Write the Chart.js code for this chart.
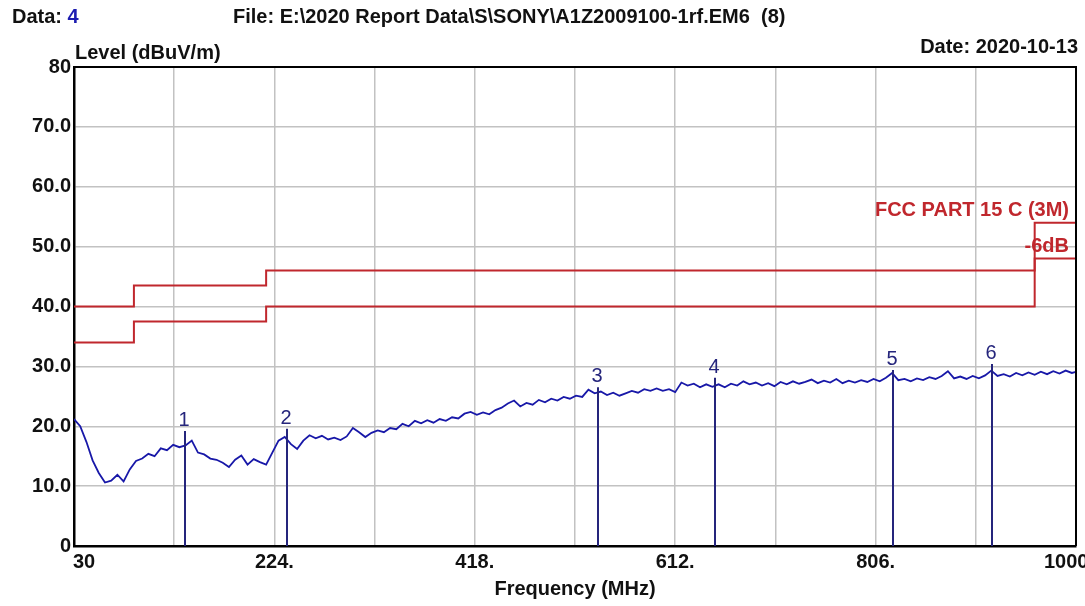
<!DOCTYPE html>
<html>
<head>
<meta charset="utf-8">
<script src="https://cdn.jsdelivr.net/npm/chart.js@4.4.0/dist/chart.umd.min.js"></script>
<style>
  html, body { margin: 0; padding: 0; background: #fff; overflow: hidden; }
</style>
</head>
<body>
<canvas id="emiChart" width="1085" height="606"></canvas>
<script>
// grid / tick positions
const xGrid = [30, 127, 224, 321, 418, 515, 612, 709, 806, 903, 1000];
const xTickLabels = ['30', '', '224.', '', '418.', '', '612.', '', '806.', '', '1000'];
const yGrid = [0, 10, 20, 30, 40, 50, 60, 70, 80];
const yTickLabels = ['0', '10.0', '20.0', '30.0', '40.0', '50.0', '60.0', '70.0', '80'];

// limit lines (FCC part 15 C, 3m) and the -6dB margin
const limitFreq = [30, 88, 216, 960, 1000];
const limitLevel = [40, 43.5, 46, 54, 54];
const marginLevel = [34, 37.5, 40, 48, 48];

// measured trace
const traceFreq = [
  30, 36, 42, 48, 54, 60, 66, 72, 78, 84,
  90, 96, 102, 108, 114, 120, 126, 132, 138, 144,
  150, 156, 162, 168, 174, 180, 186, 192, 198, 204,
  210, 216, 222, 228, 234, 240, 246, 252, 258, 264,
  270, 276, 282, 288, 294, 300, 306, 312, 318, 324,
  330, 336, 342, 348, 354, 360, 366, 372, 378, 384,
  390, 396, 402, 408, 414, 420, 426, 432, 438, 444,
  450, 456, 462, 468, 474, 480, 486, 492, 498, 504,
  510, 516, 522, 528, 534, 540, 546, 552, 558, 564,
  570, 576, 582, 588, 594, 600, 606, 612, 618, 624,
  630, 636, 642, 648, 654, 660, 666, 672, 678, 684,
  690, 696, 702, 708, 714, 720, 726, 732, 738, 744,
  750, 756, 762, 768, 774, 780, 786, 792, 798, 804,
  810, 816, 822, 828, 834, 840, 846, 852, 858, 864,
  870, 876, 882, 888, 894, 900, 906, 912, 918, 924,
  930, 936, 942, 948, 954, 960, 966, 972, 978, 984,
  990, 996, 1000
];
const traceLevel = [
  21.2, 20.0, 17.4, 14.3, 12.2, 10.6, 10.9, 11.9, 10.8, 12.8,
  14.2, 14.6, 15.4, 15.0, 16.3, 16.0, 16.9, 16.5, 16.8, 17.6,
  15.6, 15.3, 14.6, 14.4, 13.9, 13.2, 14.4, 15.1, 13.6, 14.5,
  14.0, 13.6, 15.6, 17.6, 18.2, 17.0, 16.2, 17.6, 18.5, 18.0,
  18.4, 17.8, 18.1, 17.7, 18.3, 19.7, 19.0, 18.2, 18.9, 19.3,
  19.0, 19.7, 19.5, 20.4, 20.0, 20.9, 20.5, 21.0, 20.6, 21.2,
  20.9, 21.5, 21.3, 22.1, 22.4, 21.9, 22.3, 22.0, 22.7, 23.1,
  23.8, 24.3, 23.3, 23.9, 23.6, 24.4, 24.0, 24.6, 24.3, 24.9,
  24.6, 25.1, 24.9, 26.1, 25.5, 25.8, 25.2, 25.6, 25.1, 25.5,
  25.9, 25.6, 26.2, 25.9, 26.3, 25.9, 26.2, 25.7, 27.3, 26.8,
  27.1, 26.5, 27.0, 26.6, 27.0, 26.5, 27.1, 26.8, 27.5, 27.0,
  27.3, 26.8, 27.2, 26.7, 27.4, 27.0, 27.5, 27.1, 27.4, 27.8,
  27.2, 27.6, 27.3, 27.9, 27.2, 27.6, 27.3, 27.7, 27.4, 27.9,
  27.5, 28.1, 28.9, 27.7, 27.9, 27.5, 28.0, 27.7, 28.2, 27.9,
  28.4, 29.2, 28.0, 28.3, 27.9, 28.4, 28.0, 28.5, 29.3, 28.4,
  28.7, 28.3, 28.9, 28.5, 29.0, 28.6, 29.1, 28.7, 29.2, 28.8,
  29.3, 28.9, 29.1
];

// peak markers
const markerLabels = ['1', '2', '3', '4', '5', '6'];
const markerFreq = [137.6, 236.2, 537.3, 650.5, 823.1, 919.0];
const markerLevel = [19.2, 19.6, 26.5, 28.1, 29.4, 30.4];

const FONT = '"Liberation Sans", Arial, sans-serif';
const RED = '#c0272d';
const NAVY = '#25257c';

const overlay = {
  id: 'overlay',
  afterDatasetsDraw(chart) {
    const { ctx, chartArea: a, scales: { x, y } } = chart;
    ctx.save();
    // markers
    ctx.strokeStyle = NAVY;
    ctx.fillStyle = NAVY;
    ctx.lineWidth = 2;
    ctx.font = '20px ' + FONT;
    ctx.textAlign = 'center';
    ctx.textBaseline = 'alphabetic';
    markerFreq.forEach((f, i) => {
      const px = Math.round(x.getPixelForValue(f));
      const top = y.getPixelForValue(markerLevel[i]);
      ctx.beginPath();
      ctx.moveTo(px, y.getPixelForValue(0));
      ctx.lineTo(px, top);
      ctx.stroke();
      ctx.fillText(markerLabels[i], px - 1, top - 5);
    });
    // top and right frame
    ctx.strokeStyle = '#000';
    ctx.lineWidth = 2;
    ctx.beginPath();
    ctx.moveTo(a.left, a.top);
    ctx.lineTo(a.right, a.top);
    ctx.lineTo(a.right, a.bottom);
    ctx.stroke();
    ctx.restore();
  },
  afterDraw(chart) {
    const { ctx, scales: { x, y } } = chart;
    ctx.save();
    ctx.font = 'bold 20px ' + FONT;
    ctx.fillStyle = '#111';
    ctx.textBaseline = 'middle';

    // y tick labels
    ctx.textAlign = 'right';
    yGrid.forEach((v, i) => ctx.fillText(yTickLabels[i], 71, y.getPixelForValue(v)));

    // x tick labels
    xGrid.forEach((v, i) => {
      const lbl = xTickLabels[i];
      if (!lbl) return;
      const px = x.getPixelForValue(v);
      if (i === 0) { ctx.textAlign = 'left'; ctx.fillText(lbl, px - 1, 562); }
      else if (i === xGrid.length - 1) { ctx.textAlign = 'left'; ctx.fillText(lbl, px - 32, 562); }
      else { ctx.textAlign = 'center'; ctx.fillText(lbl, px, 562); }
    });

    // titles
    ctx.textAlign = 'left';
    ctx.fillText('Data: ', 12, 17);
    const w = ctx.measureText('Data: ').width;
    ctx.fillStyle = '#1c1cb0';
    ctx.fillText('4', 12 + w, 17);
    ctx.fillStyle = '#111';
    ctx.fillText('File: E:\\2020 Report Data\\S\\SONY\\A1Z2009100-1rf.EM6  (8)', 233, 17);
    ctx.fillText('Level (dBuV/m)', 75, 53);
    ctx.textAlign = 'right';
    ctx.fillText('Date: 2020-10-13', 1078, 47);
    ctx.textAlign = 'center';
    ctx.fillText('Frequency (MHz)', 575, 589);

    // limit labels
    ctx.fillStyle = RED;
    ctx.textAlign = 'right';
    ctx.fillText('FCC PART 15 C (3M)', 1069, 210);
    ctx.fillText('-6dB', 1069, 246);
    ctx.restore();
  }
};

new Chart(document.getElementById('emiChart'), {
  type: 'line',
  data: {
    datasets: [
      {
        label: 'FCC PART 15 C (3M)',
        data: limitFreq.map((f, i) => ({ x: f, y: limitLevel[i] })),
        borderColor: RED,
        borderWidth: 2,
        stepped: 'before',
        pointRadius: 0
      },
      {
        label: '-6dB',
        data: limitFreq.map((f, i) => ({ x: f, y: marginLevel[i] })),
        borderColor: RED,
        borderWidth: 2,
        stepped: 'before',
        pointRadius: 0
      },
      {
        label: 'Level',
        data: traceFreq.map((f, i) => ({ x: f, y: traceLevel[i] })),
        borderColor: '#1818a8',
        borderWidth: 1.8,
        tension: 0,
        pointRadius: 0
      }
    ]
  },
  options: {
    responsive: false,
    animation: false,
    layout: { padding: { left: 74, top: 67, right: 9, bottom: 60 } },
    plugins: { legend: { display: false }, tooltip: { enabled: false } },
    scales: {
      x: {
        type: 'linear',
        min: 30,
        max: 1000,
        afterBuildTicks: s => { s.ticks = xGrid.map(v => ({ value: v })); },
        afterFit: s => { s.height = 0; },
        ticks: { display: false },
        grid: { color: '#c2c2c2', lineWidth: 1.5, drawTicks: false },
        border: { display: true, color: '#000', width: 2.5 }
      },
      y: {
        min: 0,
        max: 80,
        afterBuildTicks: s => { s.ticks = yGrid.map(v => ({ value: v })); },
        afterFit: s => { s.width = 0; },
        ticks: { display: false },
        grid: { color: '#c2c2c2', lineWidth: 1.5, drawTicks: false },
        border: { display: true, color: '#000', width: 2.5 }
      }
    }
  },
  plugins: [overlay]
});
</script>
</body>
</html>
